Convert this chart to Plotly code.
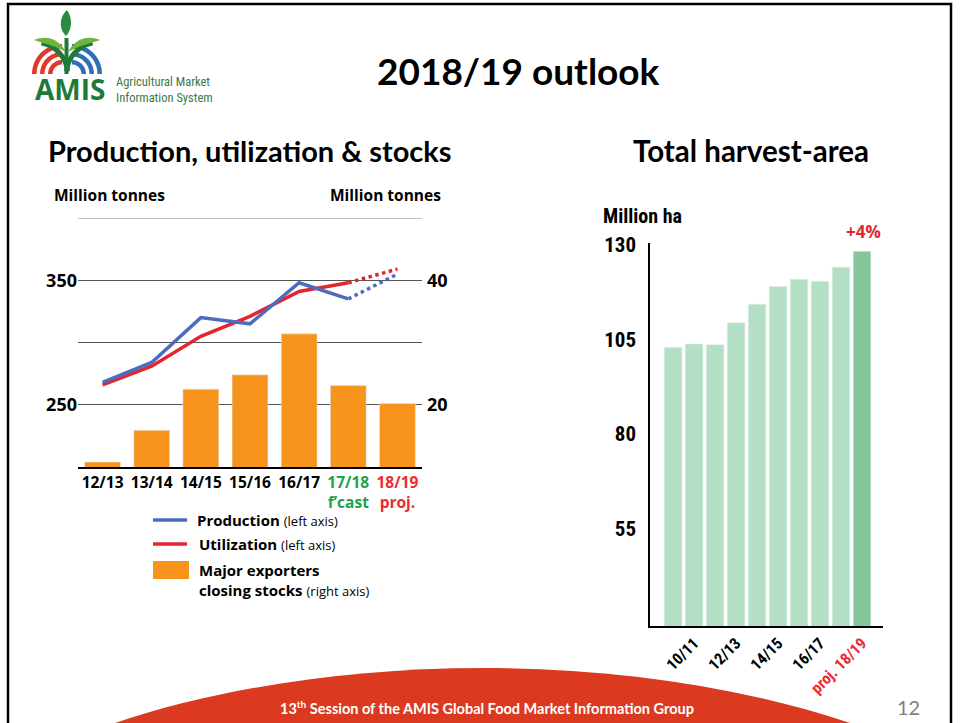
import plotly.graph_objects as go
import math

W, H = 960, 723

# ---------------- data ----------------
seasons = ["12/13", "13/14", "14/15", "15/16", "16/17", "17/18", "18/19"]
season_labels = ["12/13", "13/14", "14/15", "15/16", "16/17",
                 "<span style='color:#1ea34b'>17/18<br>f’cast</span>",
                 "<span style='color:#ee2a33'>18/19<br>proj.</span>"]
production = [268, 284, 320, 315, 348, 335, 355]
utilization = [266, 281, 305, 321, 341, 348, 359]
stocks = [10.8, 15.9, 22.5, 24.8, 31.4, 23.1, 20.2]

area_seasons = ["09/10", "10/11", "11/12", "12/13", "13/14",
                "14/15", "15/16", "16/17", "17/18", "18/19"]
harvest_area = [102.9, 103.8, 103.6, 109.4, 114.3, 119.0, 120.9, 120.4, 124.1, 128.3]
area_tickvals = ["10/11", "12/13", "14/15", "16/17", "18/19"]
area_ticktext = ["10/11", "12/13", "14/15", "16/17",
                 "<span style='color:#ee2a33'>proj. 18/19</span>"]

# ---------------- helpers ----------------
def px(x):
    return x / W

def py(y):
    return 1 - y / H

FONT = "Open Sans, Noto Sans, sans-serif"
TITLE_FONT = "Lato, Open Sans, sans-serif"
NARROW = "Liberation Sans Narrow, Roboto Condensed, Roboto, sans-serif"

BLUE = "#4d6cc0"
RED = "#e3262e"
ORANGE = "#f7941d"
LGREEN = "#b3dfc4"
DGREEN = "#86c69b"

fig = go.Figure()

# stocks bars (right axis, primary y)
fig.add_trace(go.Bar(x=seasons, y=stocks, marker_color=ORANGE, xaxis="x", yaxis="y",
                     width=0.73, showlegend=False))
# utilization
fig.add_trace(go.Scatter(x=seasons[:6], y=utilization[:6], mode="lines", xaxis="x", yaxis="y2",
                         line=dict(color=RED, width=3.5), showlegend=False))
fig.add_trace(go.Scatter(x=seasons[5:], y=utilization[5:], mode="lines", xaxis="x", yaxis="y2",
                         line=dict(color=RED, width=3.5, dash="dot"), showlegend=False))
# production
fig.add_trace(go.Scatter(x=seasons[:6], y=production[:6], mode="lines", xaxis="x", yaxis="y2",
                         line=dict(color=BLUE, width=3.5), showlegend=False))
fig.add_trace(go.Scatter(x=seasons[5:], y=production[5:], mode="lines", xaxis="x", yaxis="y2",
                         line=dict(color=BLUE, width=3.5, dash="dot"), showlegend=False))

# harvest area
fig.add_trace(go.Bar(x=area_seasons, y=harvest_area, xaxis="x3", yaxis="y3",
                     marker_color=[LGREEN] * (len(harvest_area) - 1) + [DGREEN],
                     width=0.84, showlegend=False))

shapes = []
annotations = []

# slide border
shapes.append(dict(type="rect", xref="paper", yref="paper", x0=px(8), x1=px(951), y0=py(760), y1=py(4),
                   line=dict(color="black", width=2.5), layer="below"))

# extra gridlines (300 and 400 on left axis)
shapes.append(dict(type="line", xref="x domain", yref="y2", x0=0, x1=1, y0=300, y1=300,
                   line=dict(color="#555555", width=1), layer="below"))
shapes.append(dict(type="line", xref="x domain", yref="y2", x0=0, x1=1, y0=400, y1=400,
                   line=dict(color="#aaaaaa", width=1.5), layer="below"))

# footer swoosh
shapes.append(dict(type="path", xref="paper", yref="paper",
                   path=(f"M {px(115)},{py(723)} C {px(300)},{py(660)} {px(600)},{py(640)} {px(850)},{py(723)} Z"),
                   fillcolor="#db3a21", line=dict(width=0), layer="below"))

# ---- logo (approximate) ----
def arc_band(cx, cy, r, w, start, end, color):
    n = 12
    pts_out = []
    pts_in = []
    for i in range(n + 1):
        a = math.radians(start + (end - start) * i / n)
        pts_out.append((cx + r * math.cos(a), cy - r * math.sin(a)))
        pts_in.append((cx + (r - w) * math.cos(a), cy - (r - w) * math.sin(a)))
    pts = pts_out + pts_in[::-1]
    d = "M " + " L ".join(f"{px(x)},{py(y)}" for x, y in pts) + " Z"
    return dict(type="path", xref="paper", yref="paper", path=d, fillcolor=color, line=dict(width=0))

for r in [30, 22, 14]:
    shapes.append(arc_band(62, 74, r, 4.5, 90, 180, "#e2382b"))
    shapes.append(arc_band(72, 74, r, 4.5, 0, 90, "#2f6fb6"))
shapes.append(arc_band(36, 74, 34, 5, 5, 80, "#1f7a3a"))
shapes.append(arc_band(98, 74, 34, 5, 100, 175, "#1f7a3a"))
# leaf and stem
shapes.append(dict(type="path", xref="paper", yref="paper",
                   path=(f"M {px(66)},{py(36)} C {px(58)},{py(28)} {px(60)},{py(16)} {px(67)},{py(10)} "
                         f"C {px(73)},{py(18)} {px(72)},{py(30)} {px(66)},{py(36)} Z"),
                   fillcolor="#2b8a3e", line=dict(width=0)))
shapes.append(dict(type="rect", xref="paper", yref="paper", x0=px(64.5), x1=px(68.5), y0=py(74), y1=py(38),
                   fillcolor="#1f7a3a", line=dict(width=0)))
shapes.append(dict(type="path", xref="paper", yref="paper",
                   path=(f"M {px(34)},{py(40)} C {px(48)},{py(34)} {px(60)},{py(40)} {px(66)},{py(52)} "
                         f"C {px(56)},{py(46)} {px(46)},{py(44)} {px(34)},{py(40)} Z"),
                   fillcolor="#6cb33f", line=dict(width=0)))
shapes.append(dict(type="path", xref="paper", yref="paper",
                   path=(f"M {px(100)},{py(40)} C {px(86)},{py(34)} {px(74)},{py(40)} {px(68)},{py(52)} "
                         f"C {px(78)},{py(46)} {px(88)},{py(44)} {px(100)},{py(40)} Z"),
                   fillcolor="#6cb33f", line=dict(width=0)))


def txt(x, y, text, size, color="black", family=FONT, xanchor="left", yanchor="middle", align="left"):
    annotations.append(dict(x=px(x), y=py(y), xref="paper", yref="paper", xanchor=xanchor, yanchor=yanchor,
                            text=text, showarrow=False, align=align,
                            font=dict(family=family, size=size, color=color)))


txt(33, 89, "<b>AMIS</b>", 28, color="#1f7a3a", family="Open Sans, sans-serif")
txt(114, 89, "Agricultural Market<br>Information System", 12.5, color="#3c7a45", family=NARROW)

# legend (custom)
shapes.append(dict(type="line", xref="paper", yref="paper", x0=px(153), x1=px(187), y0=py(520), y1=py(520),
                   line=dict(color=BLUE, width=3.5)))
shapes.append(dict(type="line", xref="paper", yref="paper", x0=px(153), x1=px(187), y0=py(544), y1=py(544),
                   line=dict(color=RED, width=3.5)))
shapes.append(dict(type="rect", xref="paper", yref="paper", x0=px(153), x1=px(189), y0=py(579), y1=py(561),
                   fillcolor=ORANGE, line=dict(width=0)))

txt(195, 520, "<b>Production</b> <span style='font-size:13px'>(left axis)</span>", 15)
txt(197, 544, "<b>Utilization</b> <span style='font-size:13px'>(left axis)</span>", 15)
txt(197, 570, "<b>Major exporters</b>", 15)
txt(197, 590, "<b>closing stocks</b> <span style='font-size:13px'>(right axis)</span>", 15)

# titles
txt(518, 71, "<b>2018/19 outlook</b>", 37, family=TITLE_FONT, xanchor="center")
txt(250, 150, "<b>Production, utilization &amp; stocks</b>", 29, family=TITLE_FONT, xanchor="center")
txt(751, 150, "<b>Total harvest-area</b>", 29.5, family=TITLE_FONT, xanchor="center")

# axis unit labels
txt(52, 195, "<b>Million tonnes</b>", 15.5)
txt(443, 195, "<b>Million tonnes</b>", 15.5, xanchor="right")
txt(601, 216, "<b>Million ha</b>", 20, family=NARROW)
txt(863, 232, "<b>+4%</b>", 17, color=RED, xanchor="center")

# footer
txt(487, 707, "<b>13<sup>th</sup> Session of the AMIS Global Food Market Information Group</b>", 14.5,
    color="white", family="Lato, Open Sans, sans-serif", xanchor="center")
txt(908, 707, "12", 20, color="#7f7f7f", family="Lato, Open Sans, sans-serif", xanchor="center")

fig.update_layout(
    width=W, height=H, margin=dict(l=0, r=0, t=0, b=0, pad=0, autoexpand=False),
    paper_bgcolor="white", plot_bgcolor="rgba(0,0,0,0)",
    bargap=0.27,
    shapes=shapes, annotations=annotations,
    xaxis=dict(domain=[px(78), px(422)], anchor="y", type="category", range=[-0.5, 6.5],
               tickvals=seasons, ticktext=season_labels, showline=True, linecolor="black", linewidth=2,
               ticks="", showgrid=False, zeroline=False, automargin=False,
               tickfont=dict(family=FONT, size=15.5, color="black", weight="bold")),
    yaxis=dict(domain=[py(467), py(218)], anchor="x", side="right", range=[10, 50],
               tickvals=[20, 40], ticktext=["<b>20</b>", "<b>40</b>"], showgrid=True,
               gridcolor="#555555", gridwidth=1, zeroline=False, showline=False, ticks="",
               ticklabelstandoff=4, automargin=False,
               tickfont=dict(family=FONT, size=18, color="black")),
    yaxis2=dict(overlaying="y", anchor="x", side="left", range=[200, 400],
                tickvals=[250, 350], ticktext=["<b>250</b>", "<b>350</b>"], showgrid=False,
                zeroline=False, showline=False, ticks="", automargin=False,
                tickfont=dict(family=FONT, size=18, color="black")),
    xaxis3=dict(domain=[px(650), px(883)], anchor="y3", type="category", range=[-1.1, 10],
                tickvals=area_tickvals, ticktext=area_ticktext, tickangle=-45,
                showline=True, linecolor="black", linewidth=1.5, ticks="", showgrid=False, automargin=False,
                tickfont=dict(family=NARROW, size=16, color="black", weight="bold")),
    yaxis3=dict(domain=[py(626), py(243)], anchor="x3", range=[29.2, 130.5],
                tickvals=[55, 80, 105, 130], showgrid=False, zeroline=False,
                showline=True, linecolor="black", linewidth=1.5, ticks="",
                ticklabelstandoff=8, automargin=False,
                tickfont=dict(family=NARROW, size=21, color="black", weight="bold")),
)

fig.write_html("out.html")
